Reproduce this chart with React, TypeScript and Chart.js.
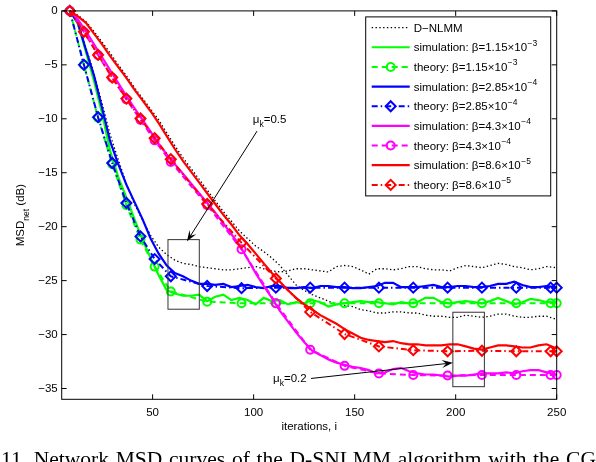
import React, { useEffect, useRef } from 'react';
import { Chart, registerables } from 'chart.js';

Chart.register(...registerables);

// ---------- data ----------
const SIM_X = [9, 13, 17, 21, 25, 29, 33, 37, 41, 45, 49, 53, 57, 61, 65, 69, 73, 77, 81, 85, 89, 93, 97, 101, 105, 109, 113, 117, 121, 125, 129, 133, 137, 141, 145, 149, 153, 157, 161, 165, 169, 173, 177, 181, 185, 189, 193, 197, 201, 205, 209, 213, 217, 221, 225, 229, 233, 237, 241, 245, 250];

const DNLMM_FAST = [0, -1.0, -3.4, -5.8, -8.6, -11.5, -13.8, -16.0, -17.9, -19.4, -20.8, -21.9, -22.6, -23.1, -23.4, -23.5, -23.7, -23.8, -23.9, -24.0, -24.0, -23.9, -23.8, -23.7, -23.9, -24.1, -24.2, -24.1, -23.9, -23.9, -24.0, -24.1, -24.2, -23.7, -23.6, -23.7, -24.0, -24.4, -23.9, -23.9, -24.0, -23.9, -23.7, -23.7, -23.9, -24.0, -24.0, -24.1, -23.8, -23.6, -23.7, -23.8, -23.6, -23.4, -23.5, -23.7, -23.8, -24.0, -23.9, -23.7, -23.8];

const DNLMM_SLOW = [0, -0.4, -1.0, -1.9, -2.9, -3.9, -5.0, -6.0, -7.1, -8.1, -9.1, -10.1, -11.3, -12.5, -13.6, -14.6, -15.6, -16.6, -17.6, -18.6, -19.5, -20.4, -21.1, -21.8, -22.3, -22.9, -23.6, -24.5, -25.4, -25.9, -26.3, -26.6, -26.9, -27.2, -27.3, -27.4, -27.7, -27.8, -28.0, -28.0, -27.9, -27.9, -28.0, -28.0, -28.2, -28.3, -28.3, -28.4, -28.4, -28.2, -28.3, -28.4, -28.3, -28.1, -28.1, -28.3, -28.4, -28.4, -28.3, -28.3, -28.6];

const SIM_GREEN = [0, -1.2, -3.8, -6.5, -9.5, -13.0, -15.4, -17.3, -19.3, -21.2, -22.9, -24.5, -25.9, -26.2, -26.4, -26.4, -26.3, -26.9, -26.5, -26.3, -26.8, -26.6, -26.8, -27.2, -26.6, -26.9, -26.8, -27.2, -27.0, -27.1, -26.8, -27.0, -27.4, -27.2, -27.1, -27.0, -26.9, -27.0, -27.0, -27.1, -27.2, -27.0, -27.1, -27.0, -26.6, -26.6, -27.0, -27.1, -27.0, -26.9, -27.0, -27.1, -26.9, -26.6, -26.9, -27.2, -27.0, -26.7, -26.8, -27.0, -27.0];

const SIM_BLUE = [0, -1.1, -3.6, -6.0, -9.0, -12.1, -14.2, -16.1, -17.7, -19.3, -21.1, -22.5, -23.6, -24.3, -24.6, -25.0, -25.3, -25.3, -25.4, -25.3, -25.6, -25.5, -25.4, -25.6, -25.7, -25.5, -25.5, -25.7, -25.7, -25.6, -25.7, -25.5, -25.5, -25.6, -25.6, -25.7, -25.7, -25.6, -25.5, -25.2, -25.2, -25.6, -25.6, -25.6, -25.5, -25.4, -25.6, -25.6, -25.5, -25.5, -25.6, -25.6, -25.5, -25.3, -25.3, -25.1, -25.4, -25.6, -25.6, -25.5, -25.6];

const SIM_MAGENTA = [0, -0.8, -1.9, -3.1, -4.3, -5.5, -6.7, -7.9, -9.0, -10.1, -11.2, -12.3, -13.3, -14.2, -15.1, -16.0, -16.9, -17.8, -18.7, -19.7, -20.7, -21.7, -23.0, -24.3, -25.5, -26.6, -27.8, -28.8, -29.8, -30.7, -31.5, -31.9, -32.3, -32.6, -32.8, -33.0, -33.1, -33.3, -33.6, -33.5, -33.2, -33.1, -33.4, -33.6, -33.7, -33.7, -33.8, -33.9, -33.8, -33.8, -33.7, -33.6, -33.6, -33.6, -33.5, -33.6, -33.4, -33.3, -33.3, -33.5, -33.7];

const SIM_RED = [0, -0.5, -1.1, -2.1, -3.1, -4.2, -5.2, -6.2, -7.3, -8.3, -9.3, -10.4, -11.6, -12.8, -13.9, -14.9, -15.9, -16.9, -17.9, -18.9, -19.8, -20.8, -21.6, -22.5, -23.4, -24.3, -25.1, -25.9, -26.6, -27.2, -27.7, -28.2, -28.6, -29.0, -29.5, -29.9, -30.3, -30.5, -30.6, -30.7, -30.6, -30.8, -30.9, -30.9, -31.0, -31.0, -31.0, -30.9, -30.9, -31.1, -31.3, -31.4, -31.2, -31.0, -31.0, -31.1, -31.2, -31.2, -31.0, -30.9, -31.3];

const THEORY_X = [9, 16, 23, 30, 37, 44, 51, 59, 77, 94, 111, 128, 145, 162, 179, 196, 213, 230, 247, 250];
const THEORY_GREEN = [0, -5.0, -9.9, -14.2, -18.0, -21.2, -23.7, -26.0, -26.95, -27.1, -27.1, -27.1, -27.1, -27.1, -27.1, -27.1, -27.1, -27.1, -27.1, -27.1];
const THEORY_BLUE = [0, -5.0, -9.85, -14.1, -17.8, -20.9, -23.0, -24.6, -25.5, -25.7, -25.65, -25.65, -25.65, -25.65, -25.65, -25.65, -25.65, -25.65, -25.65, -25.65];
const THEORY_MAGENTA = [0, -1.95, -4.1, -6.2, -8.2, -10.1, -12.0, -14.0, -18.0, -22.1, -27.1, -31.4, -32.9, -33.6, -33.75, -33.8, -33.75, -33.75, -33.75, -33.75];
const THEORY_RED = [0, -1.93, -4.08, -6.17, -8.13, -9.97, -11.8, -13.75, -17.9, -21.5, -24.8, -27.9, -29.95, -31.1, -31.45, -31.55, -31.5, -31.55, -31.55, -31.55];

const X_TICKS = [50, 100, 150, 200, 250];
const Y_TICKS = [0, -5, -10, -15, -20, -25, -30, -35];

const LEGEND_TEXT = ['D\u2212NLMM', 'simulation: \u03b2=1.15\u00d710', 'theory: \u03b2=1.15\u00d710', 'simulation: \u03b2=2.85\u00d710', 'theory: \u03b2=2.85\u00d710', 'simulation: \u03b2=4.3\u00d710', 'theory: \u03b2=4.3\u00d710', 'simulation: \u03b2=8.6\u00d710', 'theory: \u03b2=8.6\u00d710'];
const LEGEND_EXP = ['', '\u22123', '\u22123', '\u22124', '\u22124', '\u22124', '\u22124', '\u22125', '\u22125'];

const CAPTION_WORDS = ['11.', 'Network', 'MSD', 'curves', 'of', 'the', 'D-SNLMM', 'algorithm', 'with', 'the', 'CG'];

// ---------- styles ----------
const FONT = '"Liberation Sans", Arial, Helvetica, sans-serif';
const GREEN = '#00ff00';
const BLUE = '#0000ff';
const MAGENTA = '#ff00ff';
const RED = '#ff0000';
const DOT = [1.4, 2.4];
const DASH = [6, 4];
const DASHDOT = [6, 3, 1.5, 3];

type Style = { color: string; width: number; dash: number[]; marker: string | null; radius: number };
const S_DNLMM: Style = { color: '#000', width: 1.3, dash: DOT, marker: null, radius: 0 };
const S = {
  gs: { color: GREEN, width: 2.2, dash: [], marker: null, radius: 0 } as Style,
  gt: { color: GREEN, width: 2, dash: DASH, marker: 'circle', radius: 4 } as Style,
  bs: { color: BLUE, width: 2.2, dash: [], marker: null, radius: 0 } as Style,
  bt: { color: BLUE, width: 2, dash: DASHDOT, marker: 'rectRot', radius: 5 } as Style,
  ms: { color: MAGENTA, width: 2.2, dash: [], marker: null, radius: 0 } as Style,
  mt: { color: MAGENTA, width: 2, dash: DASH, marker: 'circle', radius: 4 } as Style,
  rs: { color: RED, width: 2.2, dash: [], marker: null, radius: 0 } as Style,
  rt: { color: RED, width: 2, dash: DASHDOT, marker: 'rectRot', radius: 5 } as Style,
};
const LEGEND_STYLES: Style[] = [S_DNLMM, S.gs, S.gt, S.bs, S.bt, S.ms, S.mt, S.rs, S.rt];

function pts(xs: number[], ys: number[]) {
  return xs.map((x, i) => ({ x, y: ys[i] }));
}

function makeDataset(label: string, data: { x: number; y: number }[], st: Style, order: number) {
  return {
    label,
    data,
    borderColor: st.color,
    borderWidth: st.width,
    borderDash: st.dash,
    pointStyle: st.marker || 'circle',
    pointRadius: st.marker ? st.radius : 0,
    pointBorderColor: st.color,
    pointBackgroundColor: 'rgba(0,0,0,0)',
    pointBorderWidth: 2,
    pointHoverRadius: 0,
    tension: 0,
    fill: false,
    clip: false as any,
    order,
  };
}

function drawArrow(ctx: CanvasRenderingContext2D, x0: number, y0: number, x1: number, y1: number) {
  const a = Math.atan2(y1 - y0, x1 - x0);
  const c = Math.cos(a), s = Math.sin(a);
  const len = 11, w = 4;
  ctx.beginPath();
  ctx.moveTo(x0, y0);
  ctx.lineTo(x1 - c * len * 0.6, y1 - s * len * 0.6);
  ctx.stroke();
  ctx.beginPath();
  ctx.moveTo(x1, y1);
  ctx.lineTo(x1 - c * len - s * w, y1 - s * len + c * w);
  ctx.lineTo(x1 - c * len * 0.6, y1 - s * len * 0.6);
  ctx.lineTo(x1 - c * len + s * w, y1 - s * len - c * w);
  ctx.closePath();
  ctx.fill();
}

function drawMu(ctx: CanvasRenderingContext2D, x: number, y: number, val: string) {
  ctx.font = `11.5px ${FONT}`;
  ctx.textAlign = 'left';
  ctx.textBaseline = 'alphabetic';
  ctx.fillText('\u03bc', x, y);
  let cx = x + ctx.measureText('\u03bc').width;
  ctx.font = `8.5px ${FONT}`;
  ctx.fillText('k', cx, y + 4);
  cx += ctx.measureText('k').width;
  ctx.font = `11.5px ${FONT}`;
  ctx.fillText('=' + val, cx, y);
}

function drawMarker(ctx: CanvasRenderingContext2D, st: Style, x: number, y: number) {
  if (!st.marker) return;
  ctx.save();
  ctx.setLineDash([]);
  ctx.lineWidth = 2;
  ctx.strokeStyle = st.color;
  ctx.beginPath();
  if (st.marker === 'circle') {
    ctx.arc(x, y, st.radius, 0, Math.PI * 2);
  } else {
    const r = st.radius;
    ctx.moveTo(x, y - r);
    ctx.lineTo(x + r, y);
    ctx.lineTo(x, y + r);
    ctx.lineTo(x - r, y);
    ctx.closePath();
  }
  ctx.stroke();
  ctx.restore();
}

const overlayPlugin = {
  id: 'matlabOverlay',
  afterDatasetsDraw(chart: any) {
    const { ctx, chartArea: a, scales } = chart;
    const xs = scales.x, ys = scales.y;
    const px = (v: number) => xs.getPixelForValue(v);
    const py = (v: number) => ys.getPixelForValue(v);
    ctx.save();

    // zoom boxes
    ctx.strokeStyle = '#333';
    ctx.lineWidth = 1;
    ctx.setLineDash([]);
    [[57.6, 73.1, -21.2, -27.65], [198.6, 214.2, -27.93, -34.83]].forEach(([x0, x1, y0, y1]) => {
      ctx.strokeRect(px(x0), py(y0), px(x1) - px(x0), py(y1) - py(y0));
    });

    // arrows + labels
    ctx.strokeStyle = '#000';
    ctx.fillStyle = '#000';
    drawArrow(ctx, px(101.7), py(-11.14), px(67.0), py(-21.36));
    drawArrow(ctx, px(128.4), py(-34.07), px(198.6), py(-32.62));
    drawMu(ctx, px(99.6), py(-10.4), '0.5');
    drawMu(ctx, px(109.6), py(-34.44), '0.2');

    // legend
    const lx = a.left + 304, ly = a.top + 6, lw = 185, lh = 179;
    ctx.fillStyle = '#fff';
    ctx.fillRect(lx, ly, lw, lh);
    ctx.strokeStyle = '#000';
    ctx.lineWidth = 1;
    ctx.strokeRect(lx, ly, lw, lh);
    LEGEND_TEXT.forEach((t, i) => {
      const st = LEGEND_STYLES[i];
      const cy = ly + 10.7 + i * 19.66;
      ctx.save();
      ctx.strokeStyle = st.color;
      ctx.lineWidth = st.width;
      ctx.setLineDash(st.dash);
      ctx.beginPath();
      ctx.moveTo(lx + 6, cy);
      ctx.lineTo(lx + 44, cy);
      ctx.stroke();
      ctx.restore();
      drawMarker(ctx, st, lx + 25, cy);
      ctx.fillStyle = '#000';
      ctx.font = `11.5px ${FONT}`;
      ctx.textAlign = 'left';
      ctx.textBaseline = 'alphabetic';
      ctx.fillText(t, lx + 48, cy + 4);
      if (LEGEND_EXP[i]) {
        const w = ctx.measureText(t).width;
        ctx.font = `8.5px ${FONT}`;
        ctx.fillText(LEGEND_EXP[i], lx + 48 + w + 0.5, cy - 1.5);
      }
    });

    // axes box + inward ticks
    ctx.strokeStyle = '#000';
    ctx.lineWidth = 1;
    ctx.setLineDash([]);
    ctx.strokeRect(a.left, a.top, a.right - a.left, a.bottom - a.top);
    const TL = 5;
    ctx.beginPath();
    X_TICKS.forEach((v) => {
      const p = px(v);
      ctx.moveTo(p, a.bottom); ctx.lineTo(p, a.bottom - TL);
      ctx.moveTo(p, a.top); ctx.lineTo(p, a.top + TL);
    });
    Y_TICKS.forEach((v) => {
      const p = py(v);
      ctx.moveTo(a.left, p); ctx.lineTo(a.left + TL, p);
      ctx.moveTo(a.right, p); ctx.lineTo(a.right - TL, p);
    });
    ctx.stroke();

    // y-axis title with subscript
    ctx.translate(24, (a.top + a.bottom) / 2 + 10);
    ctx.rotate(-Math.PI / 2);
    ctx.fillStyle = '#000';
    ctx.textBaseline = 'alphabetic';
    ctx.textAlign = 'left';
    ctx.font = `11.5px ${FONT}`;
    const w1 = ctx.measureText('MSD').width;
    const w3 = ctx.measureText(' (dB)').width;
    ctx.font = `8.5px ${FONT}`;
    const w2 = ctx.measureText('net').width;
    let sx = -(w1 + w2 + w3) / 2;
    ctx.font = `11.5px ${FONT}`;
    ctx.fillText('MSD', sx, 0);
    sx += w1;
    ctx.font = `8.5px ${FONT}`;
    ctx.fillText('net', sx, 4.5);
    sx += w2;
    ctx.font = `11.5px ${FONT}`;
    ctx.fillText(' (dB)', sx, 0);
    ctx.restore();
  },
};

export default function App() {
  const ref = useRef<HTMLCanvasElement | null>(null);

  useEffect(() => {
    if (!ref.current) return;
    Chart.defaults.font.family = FONT;
    const datasets = [
      makeDataset('D-NLMM fast', pts(SIM_X, DNLMM_FAST), S_DNLMM, 10),
      makeDataset('D-NLMM slow', pts(SIM_X, DNLMM_SLOW), S_DNLMM, 9),
      makeDataset('sim green', pts(SIM_X, SIM_GREEN), S.gs, 8),
      makeDataset('theory green', pts(THEORY_X, THEORY_GREEN), S.gt, 7),
      makeDataset('sim blue', pts(SIM_X, SIM_BLUE), S.bs, 6),
      makeDataset('theory blue', pts(THEORY_X, THEORY_BLUE), S.bt, 5),
      makeDataset('sim magenta', pts(SIM_X, SIM_MAGENTA), S.ms, 4),
      makeDataset('theory magenta', pts(THEORY_X, THEORY_MAGENTA), S.mt, 3),
      makeDataset('sim red', pts(SIM_X, SIM_RED), S.rs, 2),
      makeDataset('theory red', pts(THEORY_X, THEORY_RED), S.rt, 1),
    ];
    const chart = new Chart(ref.current, {
      type: 'line',
      data: { datasets: datasets as any },
      options: {
        animation: false,
        responsive: false,
        events: [],
        layout: { padding: { top: 9, right: 39.3, left: 0, bottom: 0 } },
        plugins: { legend: { display: false }, tooltip: { enabled: false } },
        scales: {
          x: {
            type: 'linear',
            min: 5,
            max: 250,
            grid: { display: false, drawTicks: false },
            border: { display: false },
            afterBuildTicks: (s: any) => { s.ticks = X_TICKS.map((v) => ({ value: v })); },
            afterFit: (s: any) => { s.height = 62.7; },
            ticks: { padding: 6.5, color: '#000', font: { size: 11.5 }, maxRotation: 0, autoSkip: false },
            title: { display: true, text: 'iterations, i', color: '#000', font: { size: 11.5 }, padding: { top: 0, bottom: 28.6 } },
          },
          y: {
            type: 'linear',
            min: -36,
            max: 0,
            grid: { display: false, drawTicks: false },
            border: { display: false },
            afterBuildTicks: (s: any) => { s.ticks = Y_TICKS.map((v) => ({ value: v })); },
            afterFit: (s: any) => { s.width = 61.7; },
            ticks: {
              padding: 4,
              color: '#000',
              font: { size: 11.5 },
              autoSkip: false,
              callback: (v: any) => (Number(v) < 0 ? '\u2212' + Math.abs(Number(v)) : String(v)),
            },
          },
        },
      },
      plugins: [overlayPlugin],
    });
    return () => chart.destroy();
  }, []);

  return (
    <div style={{ position: 'absolute', left: 0, top: 0, width: 596, height: 462, overflow: 'hidden', background: '#fff' }}>
      <canvas ref={ref} width={596} height={462} style={{ position: 'absolute', left: 0, top: 0, width: 596, height: 462 }} />
      <div
        style={{
          position: 'absolute',
          left: 1,
          top: 448,
          width: 595,
          display: 'flex',
          justifyContent: 'space-between',
          whiteSpace: 'nowrap',
          fontFamily: '"Liberation Serif", "Times New Roman", serif',
          fontSize: 21.5,
          lineHeight: '22px',
          color: '#000',
        }}
      >
        {CAPTION_WORDS.map((w, i) => (
          <span key={i}>{w}</span>
        ))}
      </div>
    </div>
  );
}
